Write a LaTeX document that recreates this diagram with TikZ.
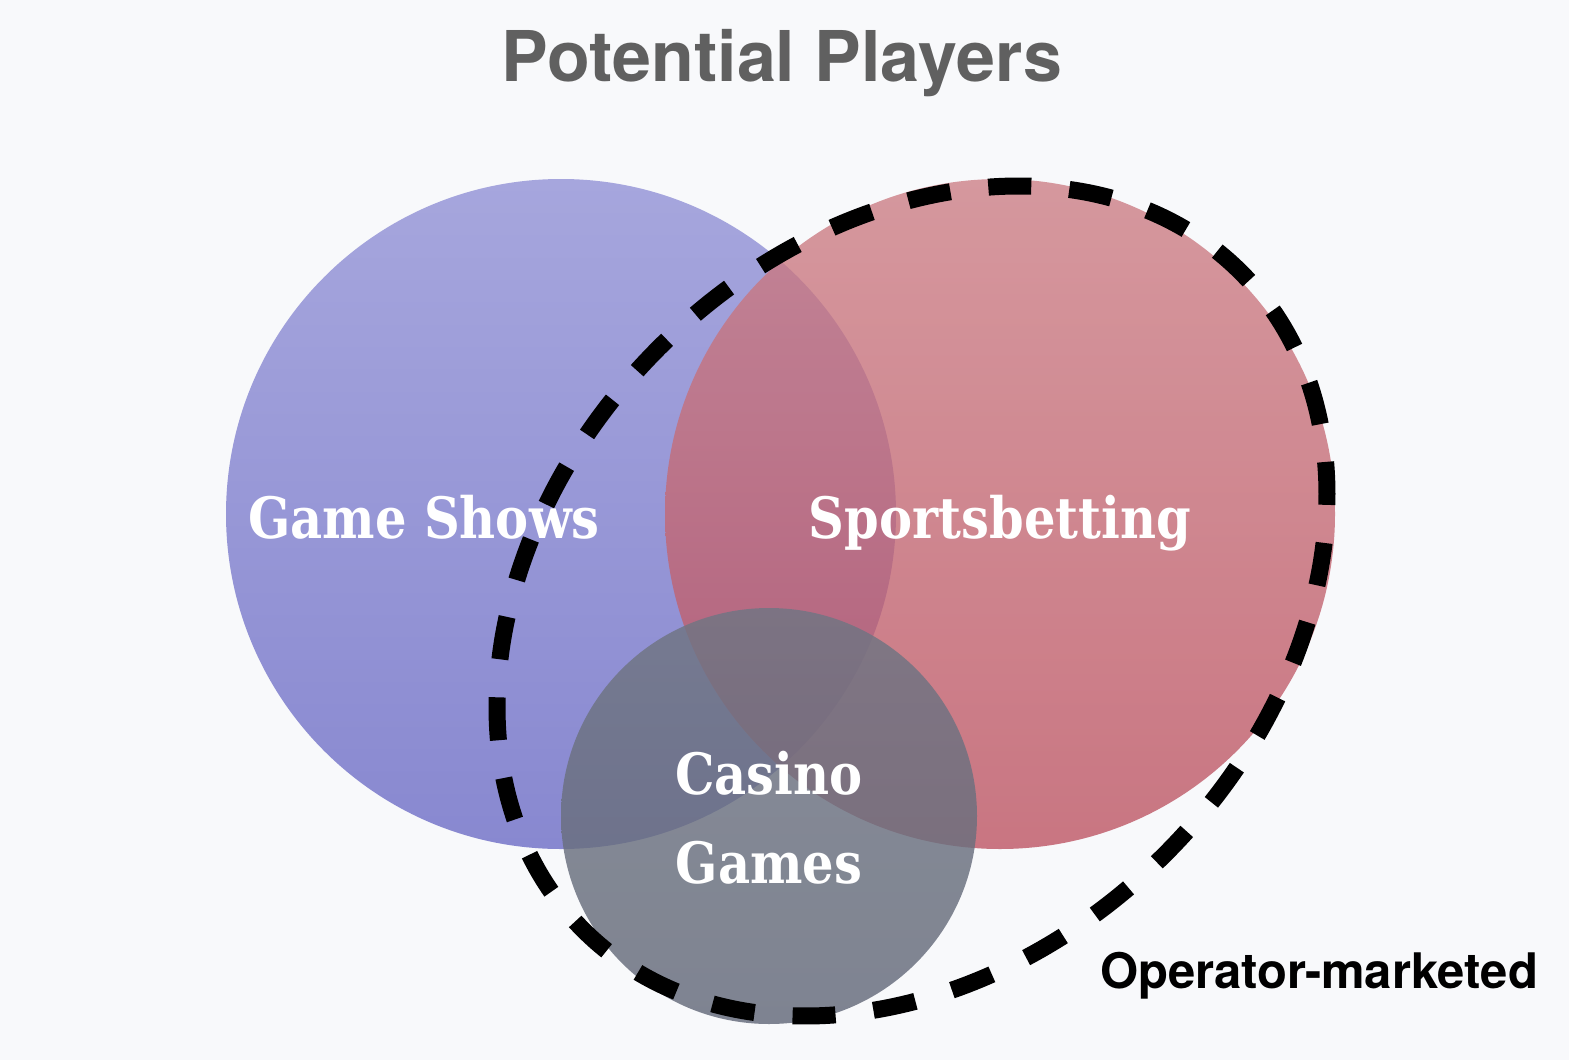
\documentclass[tikz,border=0pt]{standalone}
\usepackage{fontspec}
\setmainfont{TeX Gyre Heros}
\newfontfamily\setfont{DejaVu Serif}[FakeStretch=0.87]
\usepackage{tikz}
\definecolor{bg}{RGB}{248,249,251}
\definecolor{titlegray}{RGB}{96,96,96}
\definecolor{blueTop}{RGB}{166,166,221}
\definecolor{blueBot}{RGB}{136,136,208}
\definecolor{redTop}{RGB}{204,125,132}
\definecolor{redBot}{RGB}{188,81,96}
\definecolor{grayTop}{RGB}{112,117,131}
\definecolor{grayBot}{RGB}{100,106,122}

\begin{document}
\begin{tikzpicture}[
  x=1pt, y=-1pt,
  setname/.style={text=white, anchor=base, align=center,
                  font={\setfont\bfseries\fontsize{57}{89}\selectfont}},
  heading/.style={text=titlegray, anchor=base,
                  font={\bfseries\fontsize{70}{80}\selectfont}},
  tag/.style={text=black, anchor=base,
              font={\bfseries\fontsize{49}{56}\selectfont}},
  dashring/.style={draw=black, line width=17pt,
                   dash pattern=on 43pt off 38.14pt, dash phase=11.4pt},
]

% Canvas
\fill[bg] (0,0) rectangle (1569,1060);
\useasboundingbox (0,0) rectangle (1569,1060);

% Circle centres
\coordinate (gameC)   at (561,514);
\coordinate (sportC)  at (1000,514);
\coordinate (casinoC) at (769,816);
\coordinate (opC)     at (912,601);

% Sets
\shade[top color=blueTop, bottom color=blueBot] (gameC) circle [radius=335pt];
\shade[top color=redTop, bottom color=redBot, opacity=0.78] (sportC) circle [radius=335pt];
\shade[top color=grayTop, bottom color=grayBot, opacity=0.82] (casinoC) circle [radius=208pt];

% Operator-marketed outline
\draw[dashring, rotate around={45:(opC)}] (opC) ellipse [x radius=465pt, y radius=358pt];

% Labels
\node[heading] (title) at (782,81) {Potential Players};
\node[setname] (games)  at (424,538) {Game Shows};
\node[setname] (sports) at (1000,538) {Sportsbetting};
\node[setname] (casino) at (769,883) {Casino\\Games};
\node[tag] (operator) at (1319,988) {Operator-marketed};

\end{tikzpicture}
\end{document}
